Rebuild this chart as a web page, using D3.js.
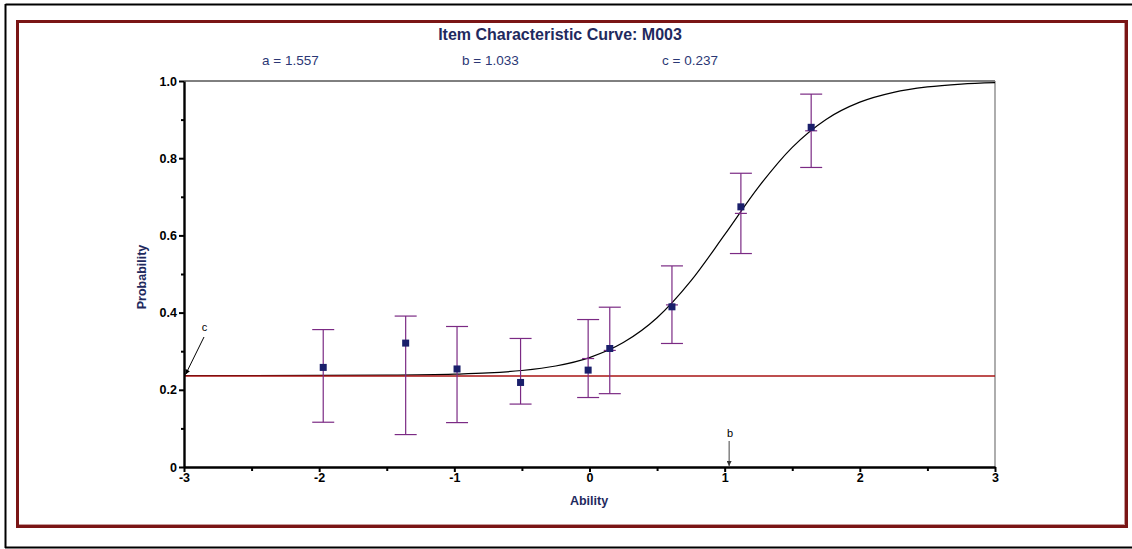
<!DOCTYPE html>
<html>
<head>
<meta charset="utf-8">
<script src="https://cdn.jsdelivr.net/npm/d3@7"></script>
<style>
  html, body { margin: 0; padding: 0; background: #fff; }
  svg { display: block; font-family: "Liberation Sans", Arial, sans-serif; }
</style>
</head>
<body>
<svg id="chart" width="1132" height="549"></svg>
<script>
// ---- data ----
const titleText = "Item Characteristic Curve: M003";
const paramLabels = ["a = 1.557", "b = 1.033", "c = 0.237"];
const paramB = 1.033;
const paramC = 0.237;

const xTicks = [-3, -2, -1, 0, 1, 2, 3];
const xMinorTicks = [-2.5, -1.5, -0.5, 0.5, 1.5, 2.5];
const yTicks = [0, 0.2, 0.4, 0.6, 0.8, 1.0];
const yMinorTicks = [0.1, 0.3, 0.5, 0.7, 0.9];

// observed points with error bars
const abilities = [-1.97, -1.36, -0.98, -0.51, -0.01, 0.15, 0.61, 1.12, 1.64];
const observed  = [0.258, 0.321, 0.254, 0.219, 0.251, 0.307, 0.415, 0.674, 0.880];
const upperCI   = [0.356, 0.391, 0.364, 0.333, 0.382, 0.414, 0.521, 0.761, 0.966];
const lowerCI   = [0.116, 0.084, 0.115, 0.163, 0.180, 0.190, 0.320, 0.553, 0.776];
const expected  = [null, null, null, null, 0.281, 0.302, 0.420, 0.657, 0.871];

// curve
const curveTheta = [-3, -2.5, -2, -1.5, -1, -0.75, -0.5, -0.25, 0, 0.25, 0.5, 0.75, 1.0, 1.25, 1.5, 1.75, 2.0, 2.25, 2.5, 2.75, 3.0];
const curveProb  = [0.237, 0.237, 0.2372, 0.2379, 0.2405, 0.2436, 0.250, 0.2617, 0.2835, 0.3223, 0.3866, 0.482, 0.6019, 0.7251, 0.8282, 0.9005, 0.9452, 0.9707, 0.9846, 0.992, 0.9958];

// ---- drawing ----
const svg = d3.select("#chart");
const navy = "#1f2a5e";
const purple = "#7b2a84";

// outer frame
svg.append("line").attr("x1", 5.5).attr("x2", 1132).attr("y1", 4.5).attr("y2", 4.5).attr("stroke", "#000").attr("stroke-width", 2);
svg.append("line").attr("x1", 5.5).attr("x2", 5.5).attr("y1", 4).attr("y2", 548).attr("stroke", "#000").attr("stroke-width", 2);
svg.append("line").attr("x1", 5).attr("x2", 1132).attr("y1", 547.5).attr("y2", 547.5).attr("stroke", "#000").attr("stroke-width", 2);

// dark red frame with light inner line
svg.append("rect").attr("x", 18.5).attr("y", 22.5).attr("width", 1106).attr("height", 502)
  .attr("fill", "none").attr("stroke", "#c79a9a").attr("stroke-width", 1);
svg.append("rect").attr("x", 17.5).attr("y", 21.5).attr("width", 1109).attr("height", 505)
  .attr("fill", "none").attr("stroke", "#7a1515").attr("stroke-width", 3);

const x = d3.scaleLinear().domain([-3, 3]).range([184, 995]);
const y = d3.scaleLinear().domain([0, 1]).range([467, 81]);

// title & params
svg.append("text").attr("x", 560).attr("y", 40).attr("text-anchor", "middle")
  .attr("font-size", 16).attr("font-weight", "bold").attr("fill", navy).text(titleText);
const paramX = [262, 462, 662];
svg.selectAll("text.param").data(paramLabels).join("text").attr("class", "param")
  .attr("x", (d, i) => paramX[i]).attr("y", 65).attr("font-size", 13.5).attr("fill", "#2b3775").text(d => d);

// plot frame (top and right)
svg.append("line").attr("x1", x(-3)).attr("x2", x(3)).attr("y1", y(1)).attr("y2", y(1)).attr("stroke", "#000").attr("stroke-width", 1);
svg.append("line").attr("x1", x(3)).attr("x2", x(3)).attr("y1", y(1)).attr("y2", y(0)).attr("stroke", "#777").attr("stroke-width", 1.2);

// curve
const line = d3.line().x((d, i) => x(curveTheta[i])).y(d => y(d)).curve(d3.curveMonotoneX);
svg.append("path").attr("d", line(curveProb)).attr("fill", "none").attr("stroke", "#000").attr("stroke-width", 1.2);

// c reference line
svg.append("line").attr("x1", x(-3)).attr("x2", x(3)).attr("y1", y(paramC) + 0.5).attr("y2", y(paramC) + 0.5)
  .attr("stroke", "#a81414").attr("stroke-width", 1.4);

// error bars
const pts = abilities.map((a, i) => ({a, o: observed[i], lo: lowerCI[i], hi: upperCI[i], e: expected[i]}));
const eb = svg.append("g").attr("stroke", purple).attr("stroke-width", 1.2);
pts.forEach(p => {
  eb.append("line").attr("x1", x(p.a)).attr("x2", x(p.a)).attr("y1", y(p.hi)).attr("y2", y(p.lo));
  eb.append("line").attr("x1", x(p.a) - 11).attr("x2", x(p.a) + 11).attr("y1", y(p.hi)).attr("y2", y(p.hi));
  eb.append("line").attr("x1", x(p.a) - 11).attr("x2", x(p.a) + 11).attr("y1", y(p.lo)).attr("y2", y(p.lo));
  if (p.e !== null) {
    eb.append("line").attr("x1", x(p.a) - 6).attr("x2", x(p.a) + 6).attr("y1", y(p.e)).attr("y2", y(p.e));
  }
});
svg.append("g").selectAll("rect").data(pts).join("rect")
  .attr("x", d => x(d.a) - 3.5).attr("y", d => y(d.o) - 3.5).attr("width", 7).attr("height", 7)
  .attr("fill", "#1a1f6b");

// axes
const fmtY = d => d === 0 ? "0" : d3.format(".1f")(d);
const yAxis = svg.append("g").attr("transform", `translate(${x(-3)},0)`)
  .call(d3.axisLeft(y).tickValues(yTicks).tickFormat(fmtY).tickSize(5).tickSizeOuter(0).tickPadding(2));
svg.append("g").attr("transform", `translate(${x(-3)},0)`)
  .call(d3.axisLeft(y).tickValues(yMinorTicks).tickFormat("").tickSize(3).tickSizeOuter(0))
  .call(g => g.select(".domain").remove());
const xAxis = svg.append("g").attr("transform", `translate(0,${y(0)})`)
  .call(d3.axisBottom(x).tickValues(xTicks).tickFormat(d => String(d)).tickSize(5).tickSizeOuter(0).tickPadding(1.5));
svg.append("g").attr("transform", `translate(0,${y(0)})`)
  .call(d3.axisBottom(x).tickValues(xMinorTicks).tickFormat("").tickSize(4).tickSizeOuter(0))
  .call(g => g.select(".domain").remove());
svg.selectAll(".tick line").attr("stroke", "#000").attr("stroke-width", 2);
[yAxis, xAxis].forEach(g => {
  g.select(".domain").attr("stroke", "#000").attr("stroke-width", 2.4);
  g.selectAll("text").attr("font-family", "'Liberation Sans', Arial, sans-serif")
    .attr("font-size", 12.5).attr("font-weight", "bold").attr("fill", "#000");
});

// axis titles
svg.append("text").attr("transform", "translate(146,277) rotate(-90)").attr("text-anchor", "middle")
  .attr("font-size", 12.5).attr("font-weight", "bold").attr("fill", navy).text("Probability");
svg.append("text").attr("x", 589).attr("y", 505).attr("text-anchor", "middle")
  .attr("font-size", 12.5).attr("font-weight", "bold").attr("fill", navy).text("Ability");

// arrow markers
const defs = svg.append("defs");
defs.append("marker").attr("id", "arrowK").attr("viewBox", "0 0 10 10").attr("refX", 10).attr("refY", 5)
  .attr("markerWidth", 5).attr("markerHeight", 5).attr("orient", "auto")
  .append("path").attr("d", "M0,0 L10,5 L0,10 z").attr("fill", "#000");
defs.append("marker").attr("id", "arrowG").attr("viewBox", "0 0 10 10").attr("refX", 10).attr("refY", 5)
  .attr("markerWidth", 5).attr("markerHeight", 5).attr("orient", "auto")
  .append("path").attr("d", "M0,0 L10,5 L0,10 z").attr("fill", "#333");

// c annotation
svg.append("line").attr("x1", 204).attr("y1", 337).attr("x2", x(-3) + 1.5).attr("y2", y(paramC) - 1)
  .attr("stroke", "#000").attr("stroke-width", 1).attr("marker-end", "url(#arrowK)");
svg.append("text").attr("x", 204.5).attr("y", 331).attr("text-anchor", "middle").attr("font-size", 11).attr("fill", "#000").text("c");

// b annotation
svg.append("line").attr("x1", x(paramB)).attr("y1", 441).attr("x2", x(paramB)).attr("y2", y(0) - 1)
  .attr("stroke", "#444").attr("stroke-width", 1).attr("marker-end", "url(#arrowG)");
svg.append("text").attr("x", x(paramB) + 1).attr("y", 437).attr("text-anchor", "middle").attr("font-size", 11).attr("fill", "#000").text("b");
</script>
</body>
</html>
